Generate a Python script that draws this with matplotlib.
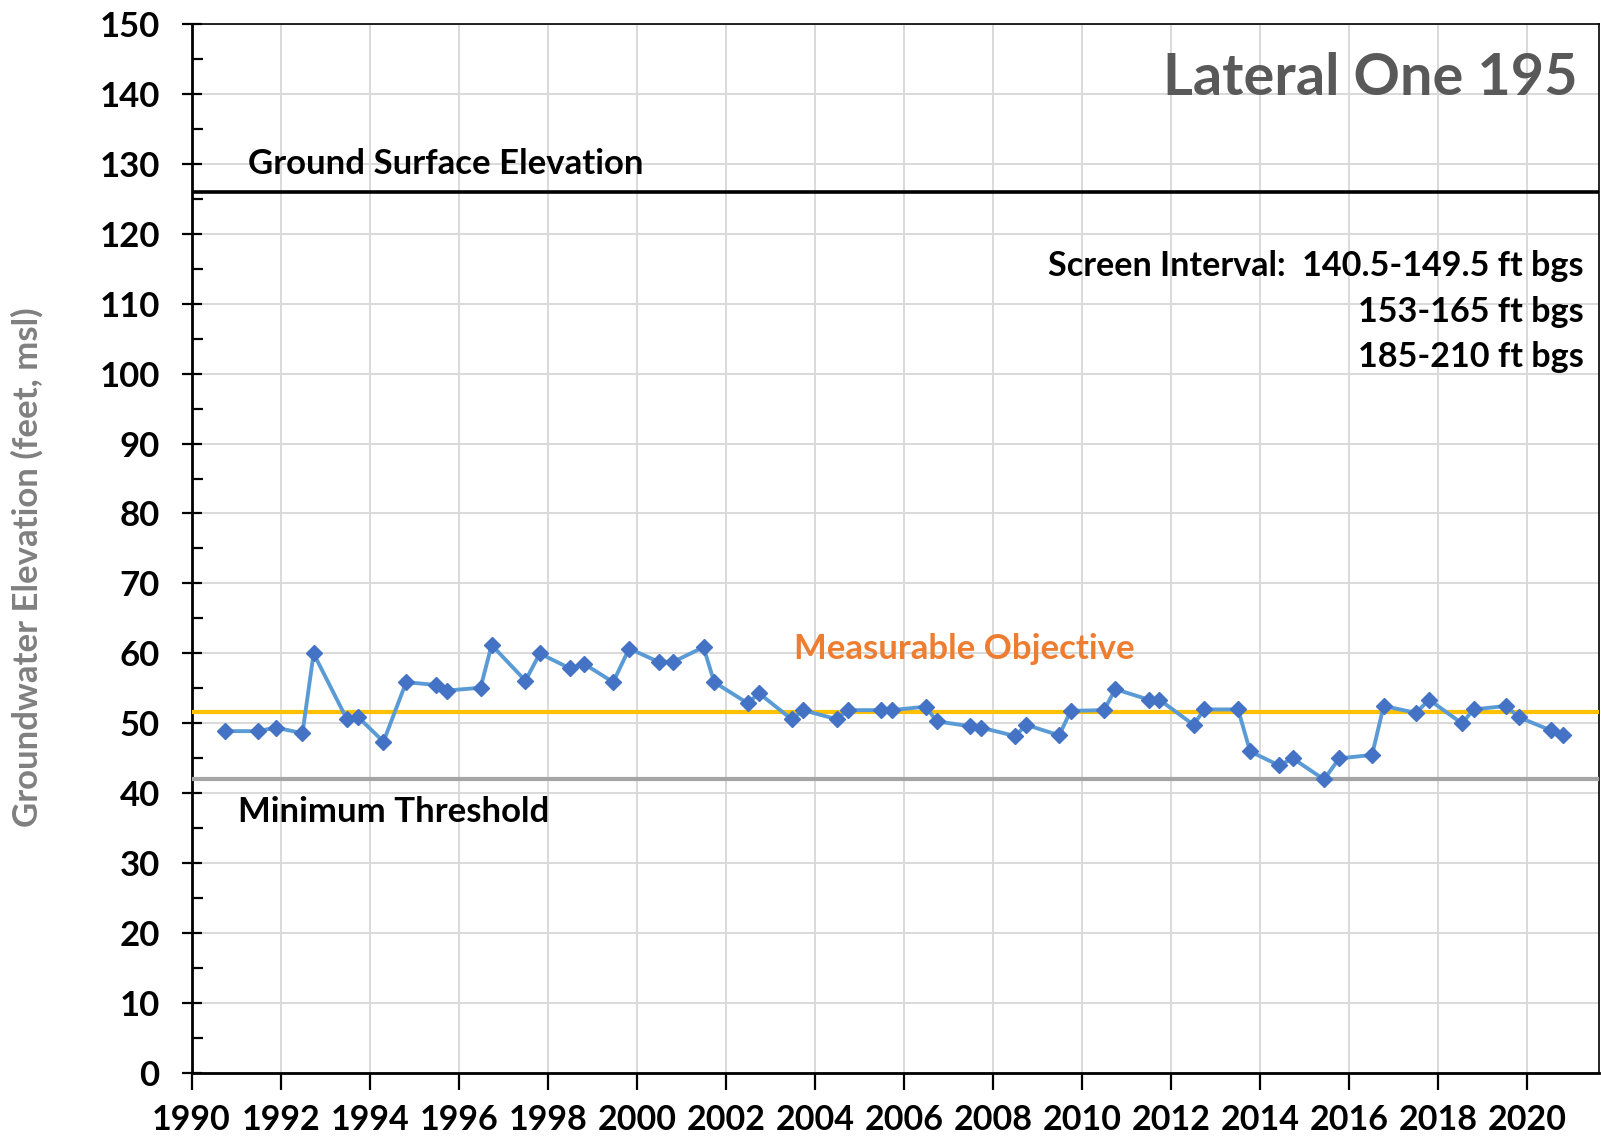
import matplotlib
matplotlib.use("Agg")
import matplotlib.pyplot as plt
from matplotlib.ticker import MultipleLocator

# ---- data ----
years = [1990.75, 1991.48, 1991.90, 1992.49, 1992.74, 1993.48, 1993.74, 1994.31,
         1994.82, 1995.48, 1995.74, 1996.49, 1996.74, 1997.50, 1997.82, 1998.49,
         1998.82, 1999.47, 1999.83, 2000.49, 2000.82, 2001.50, 2001.74, 2002.49,
         2002.75, 2003.48, 2003.74, 2004.49, 2004.74, 2005.49, 2005.74, 2006.49,
         2006.74, 2007.49, 2007.74, 2008.50, 2008.75, 2009.49, 2009.75, 2010.50,
         2010.75, 2011.50, 2011.74, 2012.51, 2012.75, 2013.51, 2013.78, 2014.43,
         2014.74, 2015.44, 2015.78, 2016.52, 2016.78, 2017.51, 2017.80, 2018.54,
         2018.80, 2019.53, 2019.81, 2020.54, 2020.81]
elev = [48.9, 48.9, 49.4, 48.6, 60.0, 50.7, 50.9, 47.4,
        55.9, 55.5, 54.7, 55.1, 61.2, 56.1, 60.0, 57.9,
        58.5, 55.9, 60.7, 58.8, 58.8, 60.9, 55.9, 52.9,
        54.3, 50.6, 51.9, 50.6, 51.9, 51.9, 51.9, 52.4,
        50.3, 49.6, 49.4, 48.2, 49.8, 48.3, 51.8, 51.9,
        54.9, 53.4, 53.4, 49.8, 52.0, 52.0, 46.0, 44.0,
        45.0, 42.0, 45.0, 45.5, 52.5, 51.5, 53.4, 50.0,
        52.0, 52.5, 50.9, 49.0, 48.4]
ground_surface = 126.0
measurable_objective = 51.6
minimum_threshold = 42.0
x_ticks = list(range(1990, 2021, 2))
y_ticks = list(range(0, 151, 10))
title = "Lateral One 195"
screen_lines = ["Screen Interval:  140.5-149.5 ft bgs", "153-165 ft bgs", "185-210 ft bgs"]

plt.rcParams['font.family'] = ['Lato', 'DejaVu Sans']
plt.rcParams['font.weight'] = 'bold'

FS = 25

fig = plt.figure(figsize=(16.01, 11.37), dpi=100)
ax = fig.add_axes([0.1197, 0.0560, 0.9988 - 0.1197, 0.9792 - 0.0560])

ax.set_xlim(1990, 2021.62)
ax.set_ylim(0, 150)
ax.set_xticks(x_ticks)
ax.set_yticks(y_ticks)
ax.yaxis.set_minor_locator(MultipleLocator(5))
ax.grid(True, which='major', color='#D9D9D9', linewidth=1.4)
ax.set_axisbelow(True)

for s in ax.spines.values():
    s.set_color('black')
    s.set_linewidth(1.2)
ax.spines['left'].set_linewidth(2.0)
ax.spines['bottom'].set_linewidth(2.0)

ax.tick_params(axis='y', which='major', direction='inout', length=14, width=1.6,
               labelsize=FS, pad=16)
ax.tick_params(axis='y', which='minor', direction='in', length=8, width=1.6)
ax.tick_params(axis='x', which='major', direction='out', length=12, width=1.6,
               labelsize=24.5, pad=10)
for lab in ax.get_xticklabels() + ax.get_yticklabels():
    lab.set_fontweight('bold')

ax.axhline(ground_surface, color='black', linewidth=2.6, zorder=3)
ax.axhline(measurable_objective, color='#FFC000', linewidth=3.0, zorder=3)
ax.axhline(minimum_threshold, color='#A5A5A5', linewidth=3.0, zorder=3)

ax.plot(years, elev, color='#5B9BD5', linewidth=2.8, marker='D', markersize=8.5,
        markerfacecolor='#4472C4', markeredgecolor='#4472C4', zorder=4)

ax.text(1991.27, 130.0, "Ground Surface Elevation", fontsize=FS, fontweight='bold',
        color='black', ha='left', va='center')
ax.text(2003.53, 60.6, "Measurable Objective", fontsize=FS, fontweight='bold',
        color='#ED7D31', ha='left', va='center')
ax.text(1991.04, 37.4, "Minimum Threshold", fontsize=FS, fontweight='bold',
        color='black', ha='left', va='center')
ax.text(2021.13, 142.1, title, fontsize=41.5, fontweight='bold',
        color='#595959', ha='right', va='center')
for yv, line in zip([115.3, 108.8, 102.4], screen_lines):
    ax.text(2021.28, yv, line, fontsize=24.6, fontweight='bold', color='black',
            ha='right', va='center')

fig.text(27.6 / 1601, 1 - 566.7 / 1137, "Groundwater Elevation (feet, msl)",
         rotation=90, fontsize=FS, fontweight='bold', color='#808080',
         ha='center', va='center')

fig.savefig("out.png", dpi=100)
